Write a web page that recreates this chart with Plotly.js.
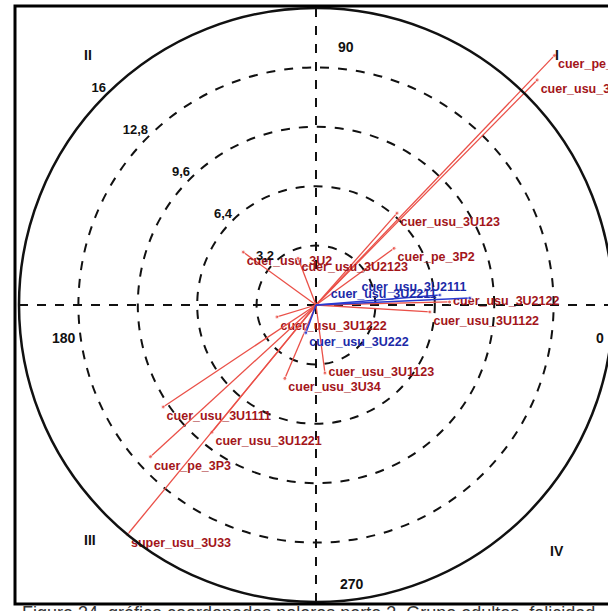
<!DOCTYPE html>
<html><head><meta charset="utf-8">
<script src="https://cdn.plot.ly/plotly-3.0.1.min.js"></script>
<style>html,body{margin:0;padding:0;overflow:hidden;background:#fff;width:608px;height:611px;position:relative}#chart{position:absolute;left:-84px;top:-95px;width:800px;height:800px}</style>
</head><body><div id="chart"></div>
<script>
// Red vectors (magnitude, angle in degrees)
const redLabels = ["cuer_pe_3P1","cuer_usu_3U11","cuer_usu_3U123","cuer_pe_3P2","cuer_usu_3U2","cuer_usu_3U2123","cuer_usu_3U2122","cuer_usu_3U1122","cuer_usu_3U1222","cuer_usu_3U1123","cuer_usu_3U34","cuer_usu_3U1111","cuer_usu_3U1221","cuer_pe_3P3","super_usu_3U33"];
const redR     = [18.6, 17.0, 6.6, 5.2, 4.85, 2.7, 7.2, 6.15, 2.2, 3.7, 4.3, 9.9, 8.85, 12.1, 16.0];
const redTheta = [46.3, 45.5, 48.6, 36.0, 144, 111, 1.3, -3.5, 197, 277.5, 247, 213.7, 230.7, 222.5, 230.6];
// Blue vectors
const blueLabels = ["cuer_usu_3U2111","cuer_usu_3U2211","cuer_usu_3U222"];
const blueR      = [8.3, 6.7, 1.6];
const blueTheta  = [2.6, 4.6, 250];
// Radial tick labels
const radialTicks = [3.2, 6.4, 9.6, 12.8, 16];
const radialTickText = ["3,2","6,4","9,6","12,8","16"];
const angleTickText = ["90","180","270","0"];
const quadrantText = ["I","II","III","IV"];
const caption = "Figura 34. gráfico coordenadas polares parte 3. Grupo adultos, felicidad";

const S = 800, OX = 84, OY = 95;           // plot div size and offset relative to page
const px = (x) => (x + OX) / S, py = (y) => (S - (y + OY)) / S;
const pxPerUnit = 297 / 16;
const rMax = (S / 2) / pxPerUnit;

const redTextPos = ["bottom right","bottom right","bottom right","bottom right","bottom right","bottom right","middle right","bottom right","bottom right","middle right","bottom right","bottom right","bottom right","bottom right","bottom right"];
const blueTextPos = ["top left","middle left","bottom right"];

const traces = [];
const labelFont = {family:"Liberation Sans, Arial, sans-serif", size:12.5, weight:700};
redLabels.forEach((lab, i) => {
  traces.push({type:"scatterpolar", r:[0, redR[i]], theta:[0, redTheta[i]], mode:"lines+markers+text",
    text:["", lab], textposition:redTextPos[i], cliponaxis:false,
    textfont:Object.assign({color:"#a3151a"}, labelFont),
    line:{color:"#ea5048", width:1.3}, marker:{size:[0,4], color:"#ea5048"}, showlegend:false, hoverinfo:"skip"});
});
blueLabels.forEach((lab, i) => {
  traces.push({type:"scatterpolar", r:[0, blueR[i]], theta:[0, blueTheta[i]], mode:"lines+markers+text",
    text:["", lab], textposition:blueTextPos[i], cliponaxis:false,
    textfont:Object.assign({color:"#1c2aa8"}, labelFont),
    line:{color:"#2a3ad0", width:1.6}, marker:{size:[0,4], color:"#2a3ad0"}, showlegend:false, hoverinfo:"skip"});
});
// radial tick labels along 135 degrees
traces.push({type:"scatterpolar", r:radialTicks, theta:radialTicks.map(()=>135), mode:"text",
  text:radialTickText, textposition:"top left", cliponaxis:false,
  textfont:{family:"Liberation Sans, Arial, sans-serif", size:13, weight:700, color:"#111"},
  showlegend:false, hoverinfo:"skip"});

const annFont = {family:"Liberation Sans, Arial, sans-serif", size:14, weight:700, color:"#111"};
const annotations = [
  {x:px(346), y:py(37), text:angleTickText[0]},
  {x:px(50), y:py(338), text:angleTickText[1]},
  {x:px(352), y:py(594), text:angleTickText[2]},
  {x:px(606), y:py(338), text:angleTickText[3]},
  {x:px(561), y:py(45), text:quadrantText[0]},
  {x:px(82), y:py(45), text:quadrantText[1]},
  {x:px(82), y:py(550), text:quadrantText[2]},
  {x:px(566), y:py(561), text:quadrantText[3]}
].map(a => Object.assign({xref:"paper", yref:"paper", showarrow:false, font:annFont}, a));
annotations.push({xref:"paper", yref:"paper", x:px(20), y:py(601), xanchor:"left", yanchor:"top", showarrow:false,
  text:caption, font:{family:"Liberation Sans, Arial, sans-serif", size:18, color:"#333"}});

const cx = 316, cy = 305, R16 = 297;
const layout = {
  width:S, height:S, margin:{l:0,r:0,t:0,b:0},
  paper_bgcolor:"#fff", showlegend:false,
  polar:{
    domain:{x:[0,1], y:[0,1]},
    bgcolor:"#fff",
    radialaxis:{range:[0,rMax], tickvals:radialTicks.slice(0,4), showticklabels:false, ticks:"",
      showline:false, gridcolor:"#111", gridwidth:2, griddash:"dash", angle:0},
    angularaxis:{tickvals:[0,90,180,270], showticklabels:false, ticks:"", showline:false,
      gridcolor:"#111", gridwidth:2, griddash:"dash"}
  },
  shapes:[
    {type:"circle", xref:"paper", yref:"paper", x0:px(cx-R16), x1:px(cx+R16), y0:py(cy+R16), y1:py(cy-R16), line:{color:"#111", width:2.5}},
    {type:"rect", xref:"paper", yref:"paper", x0:0, x1:px(14), y0:0, y1:1, fillcolor:"#fff", line:{width:0}},
    {type:"rect", xref:"paper", yref:"paper", x0:0, x1:1, y0:py(5), y1:1, fillcolor:"#fff", line:{width:0}},
    {type:"rect", xref:"paper", yref:"paper", x0:0, x1:1, y0:0, y1:py(605), fillcolor:"#fff", line:{width:0}},
    {type:"rect", xref:"paper", yref:"paper", x0:px(15), x1:px(625), y0:py(604), y1:py(6), line:{color:"#000", width:3}}
  ],
  annotations:annotations
};
Plotly.newPlot("chart", traces, layout, {displayModeBar:false, staticPlot:true});
</script></body></html>
